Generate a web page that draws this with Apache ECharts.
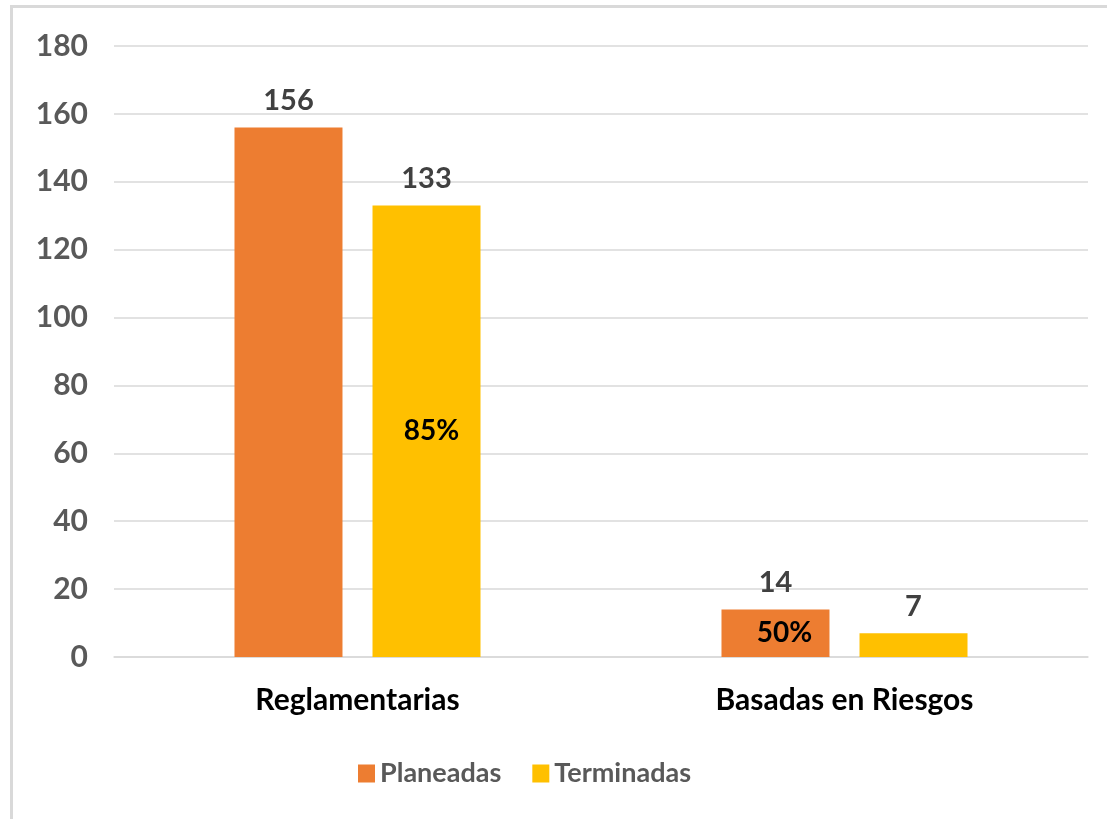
<!DOCTYPE html>
<html>
<head>
<meta charset="utf-8">
<script src="https://cdn.jsdelivr.net/npm/echarts@6/dist/echarts.min.js"></script>
<style>
  html, body { margin: 0; padding: 0; background: #fff; }
  #main { width: 1107px; height: 819px; position: relative; }
  #frame { position: absolute; left: 10px; top: 5px; width: 1110px; height: 830px;
           border-left: 3px solid #d9d9d9; border-top: 3px solid #d9d9d9; pointer-events: none; }
</style>
</head>
<body>
<div id="main"></div>
<div id="frame"></div>
<script>
// datos
var categorias = ['Reglamentarias', 'Basadas en Riesgos'];
var planeadas = [156, 14];
var terminadas = [133, 7];
var pctPlaneadas = ['', '50%'];
var pctTerminadas = ['85%', ''];
var yTicks = [0, 20, 40, 60, 80, 100, 120, 140, 160, 180];

var fuente = 'Lato';

// etiqueta de porcentaje dentro de la barra
var pctPoints = function(valores, pcts){
	var list = [];
	for (var i = 0; i < valores.length; i++) {
		if (pcts[i]) {
			list.push({ coord: [categorias[i], valores[i] / 2], value: pcts[i] });
		}
	}
	return list;
};

var pctMark = function(valores, pcts, dx){
	return {
		symbol: 'rect',
		symbolSize: 0,
		silent: true,
		label: {
			show: true,
			position: 'inside',
			offset: [dx, 0],
			color: '#000',
			fontFamily: fuente,
			fontWeight: 'bold',
			fontSize: 28,
			formatter: function(p){ return p.value; }
		},
		data: pctPoints(valores, pcts)
	};
};

var valueLabel = { show: true, position: 'top', distance: 12, color: '#404040', fontFamily: fuente, fontWeight: 'bold', fontSize: 29 };

var myChart = echarts.init(document.getElementById('main'));

var option = {
	animation: false,
	color: ['#ED7D31', '#FFC000'],
	grid: { left: 114, right: 19, top: 46, bottom: 162 },
	legend: {
		data: ['Planeadas', 'Terminadas'],
		left: 353,
		top: 755,
		icon: 'rect',
		itemWidth: 17,
		itemHeight: 18,
		itemGap: 31,
		textStyle: { color: '#595959', fontFamily: fuente, fontWeight: 'bold', fontSize: 27 }
	},
	xAxis: {
		type: 'category',
		data: categorias,
		axisTick: { show: false },
		axisLine: { lineStyle: { color: '#d9d9d9', width: 1.5 } },
		axisLabel: { color: '#000', fontFamily: fuente, fontWeight: 'bold', fontSize: 30, margin: 28 }
	},
	yAxis: {
		type: 'value',
		min: yTicks[0],
		max: yTicks[yTicks.length - 1],
		interval: 20,
		axisLine: { show: false },
		axisTick: { show: false },
		splitLine: { lineStyle: { color: '#d9d9d9', width: 1.5 } },
		axisLabel: { color: '#595959', fontFamily: fuente, fontWeight: 'bold', fontSize: 30, margin: 26 }
	},
	series: [
		{
			name: 'Planeadas',
			type: 'bar',
			barWidth: 108,
			barGap: '27.8%',
			data: planeadas,
			label: valueLabel,
			markPoint: pctMark(planeadas, pctPlaneadas, 9)
		},
		{
			name: 'Terminadas',
			type: 'bar',
			barWidth: 108,
			barGap: '27.8%',
			data: terminadas,
			label: valueLabel,
			markPoint: pctMark(terminadas, pctTerminadas, 5)
		}
	]
};

myChart.setOption(option);
</script>
</body>
</html>
